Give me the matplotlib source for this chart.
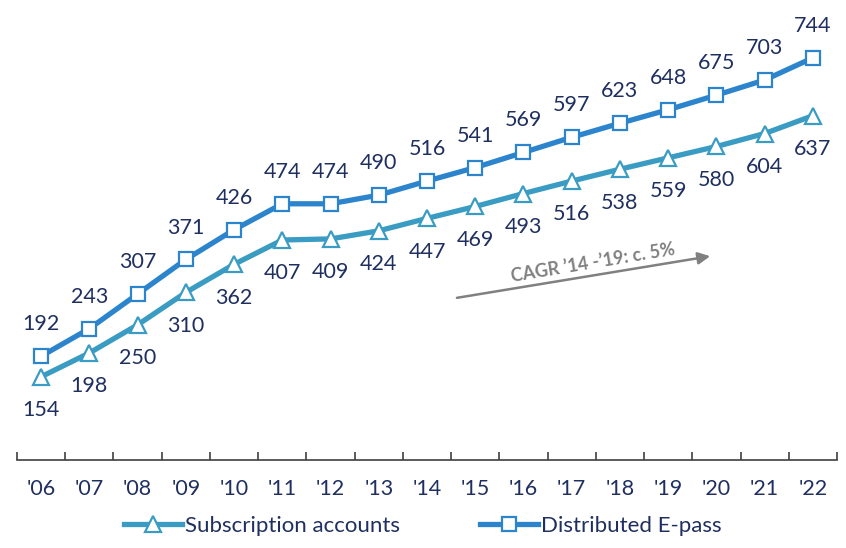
import numpy as np
import matplotlib.pyplot as plt

plt.rcParams['font.family'] = ['Lato', 'DejaVu Sans']

# Data
years = ["'06", "'07", "'08", "'09", "'10", "'11", "'12", "'13", "'14",
         "'15", "'16", "'17", "'18", "'19", "'20", "'21", "'22"]
subscription = [154, 198, 250, 310, 362, 407, 409, 424, 447,
                469, 493, 516, 538, 559, 580, 604, 637]
epass = [192, 243, 307, 371, 426, 474, 474, 490, 516,
         541, 569, 597, 623, 648, 675, 703, 744]

navy = '#1F2F60'
c_sub = '#3A9CC2'
c_epass = '#2C85CC'

fig = plt.figure(figsize=(8.46, 5.48), dpi=100)
ax = fig.add_axes([0.0201, 0.1606, 0.9693, 0.8394])

x = np.arange(len(years))
ax.plot(x, subscription, color=c_sub, lw=3.8, marker='^', ms=11,
        mfc='white', mec=c_sub, mew=1.6, label='Subscription accounts', zorder=3)
ax.plot(x, epass, color=c_epass, lw=3.8, marker='s', ms=10.5,
        mfc='white', mec=c_epass, mew=1.6, label='Distributed E-pass', zorder=3)

for xi, v in zip(x, subscription):
    ax.annotate(str(v), (xi, v), xytext=(0, -24), textcoords='offset points',
                ha='center', va='center', fontsize=15.5, color=navy)
for xi, v in zip(x, epass):
    ax.annotate(str(v), (xi, v), xytext=(0, 23), textcoords='offset points',
                ha='center', va='center', fontsize=15.5, color=navy)

# CAGR arrow
ax.annotate('', xy=(13.87, 377), xytext=(8.62, 300),
            arrowprops=dict(arrowstyle='-|>', color='#808080', lw=1.8,
                            mutation_scale=18, shrinkA=0, shrinkB=0))
ax.text(11.45, 364, 'CAGR \u201914 -\u201919: c. 5%', rotation=9.5,
        ha='center', va='center', fontsize=13, fontweight='bold', color='#808080')

ax.set_xlim(-0.5, len(years) - 0.5)
ax.set_ylim(0, 851)
ax.set_yticks([])
for s in ['top', 'right', 'left']:
    ax.spines[s].set_visible(False)
ax.spines['bottom'].set_color('#404040')
ax.spines['bottom'].set_linewidth(1.2)

ax.set_xticks(x)
ax.set_xticklabels(years, fontsize=15.5, color=navy)
ax.tick_params(axis='x', length=0, pad=14)
ax.set_xticks(np.arange(-0.5, len(years)), minor=True)
ax.tick_params(axis='x', which='minor', direction='in', length=6, width=1.2, color='#404040')

fig.legend(loc='lower center', bbox_to_anchor=(0.5, -0.015), ncol=2, frameon=False,
           fontsize=16, handlelength=2.6, columnspacing=3.6, handletextpad=0.15,
           labelcolor=navy)

fig.savefig('out.png', dpi=100)
